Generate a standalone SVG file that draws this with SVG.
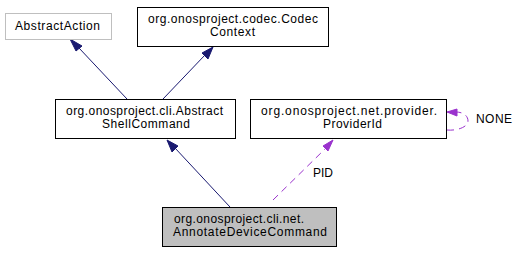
<svg xmlns="http://www.w3.org/2000/svg" width="520" height="253" viewBox="0 0 520 253">
  <style>
    .box { fill: #ffffff; stroke: #000000; stroke-width: 1; }
    .ext { fill: #ffffff; stroke: #bfbfbf; stroke-width: 1; }
    .cur { fill: #bfbfbf; stroke: #000000; stroke-width: 1; }
    text { font-family: "Liberation Sans", Arial, sans-serif; font-size: 12px; fill: #000000; }
    .c { text-anchor: middle; }
    .inh { fill: none; stroke: #191970; stroke-width: 1; }
    .inhHead { fill: #191970; stroke: #191970; stroke-width: 1; }
    .use { fill: none; stroke: #9a32cd; stroke-width: 1; stroke-dasharray: 7,5; }
    .useHead { fill: #9a32cd; stroke: #9a32cd; stroke-width: 1; }
  </style>
  <rect width="520" height="253" fill="#ffffff"/>

  <g id="edges">
    <!-- AbstractShellCommand -> AbstractAction -->
    <path class="inh" d="M127,99 L79,48"/>
    <polygon class="inhHead" points="82,46 70,39 76,51"/>
    <!-- AbstractShellCommand -> CodecContext -->
    <path class="inh" d="M163,99 L205,55"/>
    <polygon class="inhHead" points="202,53 213,47 208,59"/>
    <!-- AnnotateDeviceCommand -> AbstractShellCommand -->
    <path class="inh" d="M230,207 L175,148"/>
    <polygon class="inhHead" points="178,146 167,140 172,152"/>
    <!-- AnnotateDeviceCommand -> ProviderId (PID) -->
    <path class="use" d="M273,200 L326,148"/>
    <polygon class="useHead" points="323,146 333,140 328,151"/>
    <text x="313" y="177" textLength="20" lengthAdjust="spacing">PID</text>
    <!-- ProviderId self reference (NONE) -->
    <path class="use" d="M447,130 C457,131 468,127 468,121 C468,115 462,112 456,112"/>
    <polygon class="useHead" points="457,109 447,112 457,116"/>
    <text x="476" y="123" textLength="36" lengthAdjust="spacing">NONE</text>
  </g>

  <g id="node-abstractaction">
    <rect class="ext" x="5.5" y="13.5" width="106" height="26"/>
    <text x="15" y="30" textLength="85" lengthAdjust="spacing">AbstractAction</text>
  </g>

  <g id="node-codeccontext">
    <rect class="box" x="137.5" y="7.5" width="191" height="39"/>
    <text x="148" y="23" textLength="170" lengthAdjust="spacing">org.onosproject.codec.Codec</text>
    <text x="210" y="36" textLength="45" lengthAdjust="spacing">Context</text>
  </g>

  <g id="node-abstractshellcommand">
    <rect class="box" x="55.5" y="99.5" width="180" height="39"/>
    <text x="66" y="115" textLength="157" lengthAdjust="spacing">org.onosproject.cli.Abstract</text>
    <text x="102" y="128" textLength="88" lengthAdjust="spacing">ShellCommand</text>
  </g>

  <g id="node-providerid">
    <rect class="box" x="250.5" y="99.5" width="196" height="39"/>
    <text x="261" y="115" textLength="176" lengthAdjust="spacing">org.onosproject.net.provider.</text>
    <text x="323" y="128" textLength="59" lengthAdjust="spacing">ProviderId</text>
  </g>

  <g id="node-annotatedevicecommand">
    <rect class="cur" x="162.5" y="207.5" width="174" height="39"/>
    <text x="174" y="223" textLength="130" lengthAdjust="spacing">org.onosproject.cli.net.</text>
    <text x="173" y="236" textLength="154" lengthAdjust="spacing">AnnotateDeviceCommand</text>
  </g>
</svg>
